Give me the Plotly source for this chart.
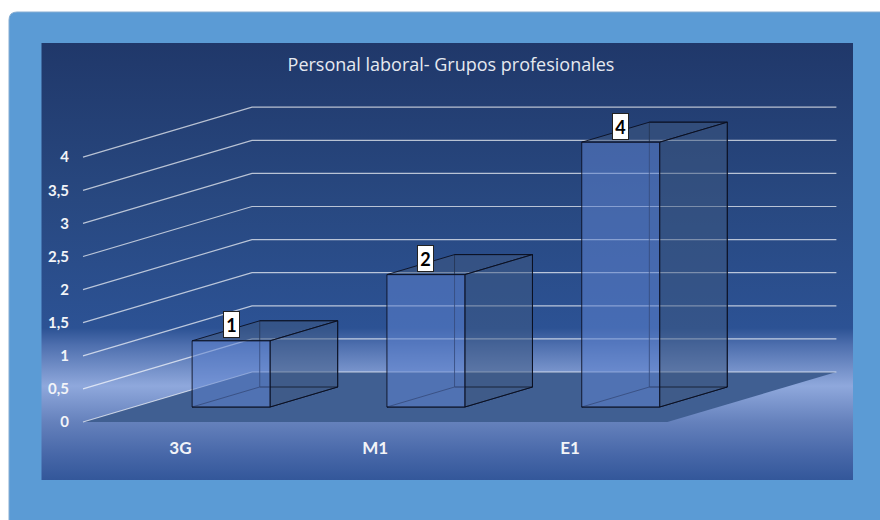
import plotly.graph_objects as go

# ---- data ----
categories = ["3G", "M1", "E1"]
values = [1, 2, 4]
value_ticks = [0, 0.5, 1, 1.5, 2, 2.5, 3, 3.5, 4]
title_text = "Personal laboral- Grupos profesionales"

# ---- oblique projection of the chart box onto the 2-D axes ----
W, H = 880, 520
ORIGIN_X, ORIGIN_Y = 83, 422      # pixel of category 0 / value 0 / depth 0
UNIT_X, UNIT_Y = 194.8, 66.2      # pixels per category / per value
DEPTH_X, DEPTH_Y = 169, 50        # pixels of the whole depth
BAR_L, BAR_W = 0.3, 0.4           # bar inset and width, in categories
BAR_D0, BAR_D1 = 0.3, 0.7         # bar depth span


def pr(c, v, d=0.0):
    return c + d * DEPTH_X / UNIT_X, v + d * DEPTH_Y / UNIT_Y


def px2data(x, y):
    return (x - ORIGIN_X) / UNIT_X, (ORIGIN_Y - y) / UNIT_Y


def poly(points):
    xs, ys = zip(*[pr(*p) for p in points])
    return list(xs) + [xs[0]], list(ys) + [ys[0]]


def face(points, fill, line="rgba(8,12,28,0.85)", width=1):
    x, y = poly(points)
    return go.Scatter(x=x, y=y, mode="lines", fill="toself", fillcolor=fill,
                      line=dict(color=line, width=width), hoverinfo="skip", showlegend=False)


fig = go.Figure()

# chart-area background with the band of light behind the floor
bx0, by0 = px2data(41.5, 43)
bx1, by1 = px2data(853, 480)
stops = [(480, "#33579A"), (455, "#4767A8"), (422, "#6581BC"), (386, "#8FA8DC"),
         (345, "#4E6FAE"), (328, "#2C5294"), (200, "#284880"), (43, "#20386A")]
span = 480 - 43
fig.add_trace(go.Scatter(
    x=[bx0, bx1, bx1, bx0, bx0], y=[by0, by0, by1, by1, by0], mode="lines",
    line=dict(width=0), fill="toself", hoverinfo="skip", showlegend=False,
    fillgradient=dict(type="vertical", colorscale=[[(480 - p) / span, c] for p, c in stops])))

# floor
n = len(categories)
fig.add_trace(face([(0, 0, 0), (n, 0, 0), (n, 0, 1), (0, 0, 1)], "#405F92", "rgba(0,0,0,0)", 0))

# side wall + back wall gridlines
gx, gy = [], []
for v in value_ticks:
    a, b, c = pr(0, v, 0), pr(0, v, 1), pr(n, v, 1)
    gx += [a[0], b[0], c[0], None]
    gy += [a[1], b[1], c[1], None]
fig.add_trace(go.Scatter(x=gx, y=gy, mode="lines", line=dict(color="rgba(255,255,255,0.68)", width=1.2),
                         hoverinfo="skip", showlegend=False))

# bars
FRONT = "rgba(92,130,206,0.55)"
SIDE = "rgba(62,88,128,0.5)"
TOP = "rgba(62,88,128,0.55)"
for i, val in enumerate(values):
    l, r = i + BAR_L, i + BAR_L + BAR_W
    d0, d1 = BAR_D0, BAR_D1
    fig.add_trace(face([(l, 0, d1), (r, 0, d1), (r, val, d1), (l, val, d1)], "rgba(0,0,0,0)"))
    fig.add_trace(face([(l, 0, d0), (r, 0, d0), (r, 0, d1), (l, 0, d1)], "rgba(0,0,0,0)"))
    fig.add_trace(face([(l, val, d0), (r, val, d0), (r, val, d1), (l, val, d1)], TOP))
    fig.add_trace(face([(r, 0, d0), (r, 0, d1), (r, val, d1), (r, val, d0)], SIDE))
    fig.add_trace(face([(l, 0, d0), (r, 0, d0), (r, val, d0), (l, val, d0)], FRONT))
    lx, ly = pr(i + 0.5, val, d0)
    fig.add_annotation(x=lx, y=ly, yshift=16, text=f"<b>{val}</b>", showarrow=False,
                       width=15, height=25, bgcolor="#FFFFFF", bordercolor="#222222", borderwidth=1,
                       borderpad=0, font=dict(family="Lato", size=18, color="#000000"))

# blue panel behind the chart
fig.add_shape(type="path", xref="paper", yref="paper", layer="below",
              path=f"M {9/W} 0 L {9/W} {1-20/H} Q {9/W} {1-12/H} {17/W} {1-12/H} L 1 {1-12/H} L 1 0 Z",
              fillcolor="#5B9BD5", line=dict(width=0))
fig.add_shape(type="path", xref="paper", yref="paper", layer="below",
              path=f"M {9/W} 0 L {9/W} {1-20/H} Q {9/W} {1-12/H} {17/W} {1-12/H} L 1 {1-12/H}",
              line=dict(color="#86ADD2", width=1))

fig.update_layout(
    width=W, height=H, margin=dict(l=0, r=0, t=0, b=0), paper_bgcolor="#FFFFFF", plot_bgcolor="rgba(0,0,0,0)",
    separators=",.", showlegend=False,
    title=dict(text=title_text, x=451 / W, y=1 - 65 / H, xanchor="center", yanchor="middle",
               font=dict(family="Open Sans", size=18, color="#E6E9F0")),
    xaxis=dict(domain=[0, 1], range=[-ORIGIN_X / UNIT_X, (W - ORIGIN_X) / UNIT_X], showgrid=False, zeroline=False,
               tickmode="array", tickvals=[i + 0.5 for i in range(n)], ticktext=categories,
               ticks="outside", ticklen=11, tickcolor="rgba(0,0,0,0)", anchor="free",
               position=(H - ORIGIN_Y) / H, showline=False,
               tickfont=dict(family="Lato", size=17, color="#F2F4F8", weight=700)),
    yaxis=dict(domain=[0, 1], range=[-(H - ORIGIN_Y) / UNIT_Y, ORIGIN_Y / UNIT_Y], showgrid=False, zeroline=False,
               tickmode="array", tickvals=value_ticks, ticktext=[str(v).replace(".", ",").removesuffix(",0") for v in value_ticks],
               ticks="outside", ticklen=11, tickcolor="rgba(0,0,0,0)", anchor="free",
               position=ORIGIN_X / W, showline=False,
               tickfont=dict(family="Lato", size=15, color="#F2F4F8", weight=700)),
)

fig.write_html("out.html", config={"displayModeBar": False},
               post_script="document.body.style.margin='0';document.body.style.overflow='hidden';")
